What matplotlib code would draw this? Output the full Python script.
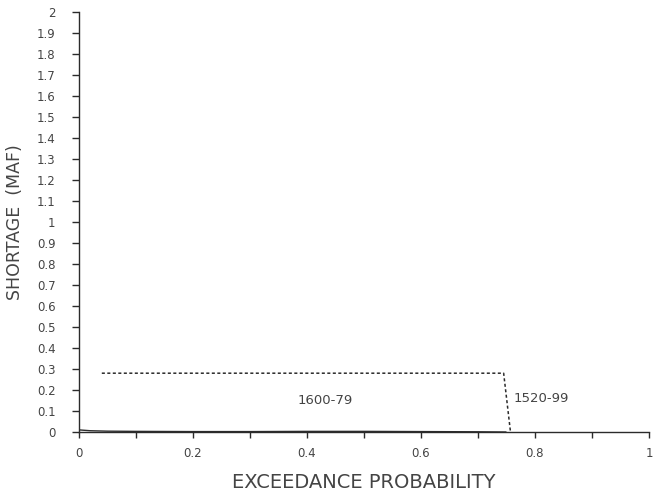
import matplotlib
matplotlib.use("Agg")
import matplotlib.pyplot as plt
from matplotlib.ticker import MultipleLocator, FixedLocator, FuncFormatter

# Shortage exceedance curves for two tree-ring flow periods
prob_1520 = [0.04, 0.745, 0.757]
short_1520 = [0.28, 0.28, 0.0]

prob_1600 = [0.0, 0.02, 0.05, 0.10, 0.20, 0.30, 0.40, 0.50, 0.60, 0.70, 0.75]
short_1600 = [0.010, 0.006, 0.004, 0.003, 0.002, 0.002, 0.003, 0.003, 0.002, 0.001, 0.0]

label_1520 = "1520-99"
label_1600 = "1600-79"

x_ticks_labeled = [0, 0.2, 0.4, 0.6, 0.8, 1.0]
y_ticks = [round(i * 0.1, 1) for i in range(21)]

ink = "#2b2b2b"
txt = "#444444"
plt.rcParams["font.family"] = ["DejaVu Sans"]

fig = plt.figure(figsize=(6.56, 4.93), dpi=100)
ax = fig.add_axes([79 / 656, 61 / 493, 570 / 656, 420 / 493])

ax.plot(prob_1600, short_1600, color=ink, lw=1.0, solid_capstyle="butt")
ax.plot(prob_1520, short_1520, color=ink, lw=1.1, linestyle=(0, (2.0, 1.6)))

ax.text(0.383, 0.15, label_1600, fontsize=9.5, color=txt, va="center", ha="left")
ax.text(0.763, 0.16, label_1520, fontsize=9.5, color=txt, va="center", ha="left")

ax.set_xlim(0, 1)
ax.set_ylim(0, 2)
for side in ("top", "right"):
    ax.spines[side].set_visible(False)
for side in ("left", "bottom"):
    ax.spines[side].set_color(ink)
    ax.spines[side].set_linewidth(1.0)

def fmt(v, _pos=None):
    if abs(v - round(v)) < 1e-9:
        return str(int(round(v)))
    return f"{v:.1f}"

ax.xaxis.set_major_locator(FixedLocator(x_ticks_labeled))
ax.xaxis.set_minor_locator(MultipleLocator(0.1))
ax.xaxis.set_major_formatter(FuncFormatter(fmt))
ax.yaxis.set_major_locator(FixedLocator(y_ticks))
ax.yaxis.set_major_formatter(FuncFormatter(fmt))

ax.tick_params(axis="x", which="both", direction="out", length=4, width=1.0,
               color=ink, labelcolor=txt, labelsize=8.5, pad=7)
ax.tick_params(axis="y", which="both", direction="out", length=5, width=1.0,
               color=ink, labelcolor=txt, labelsize=8.5, pad=12)

ax.set_xlabel("EXCEEDANCE PROBABILITY", fontsize=14, color=txt, labelpad=9)
ax.set_ylabel("SHORTAGE  (MAF)", fontsize=12.5, color=txt, labelpad=9)

fig.savefig("out.png", dpi=100)
